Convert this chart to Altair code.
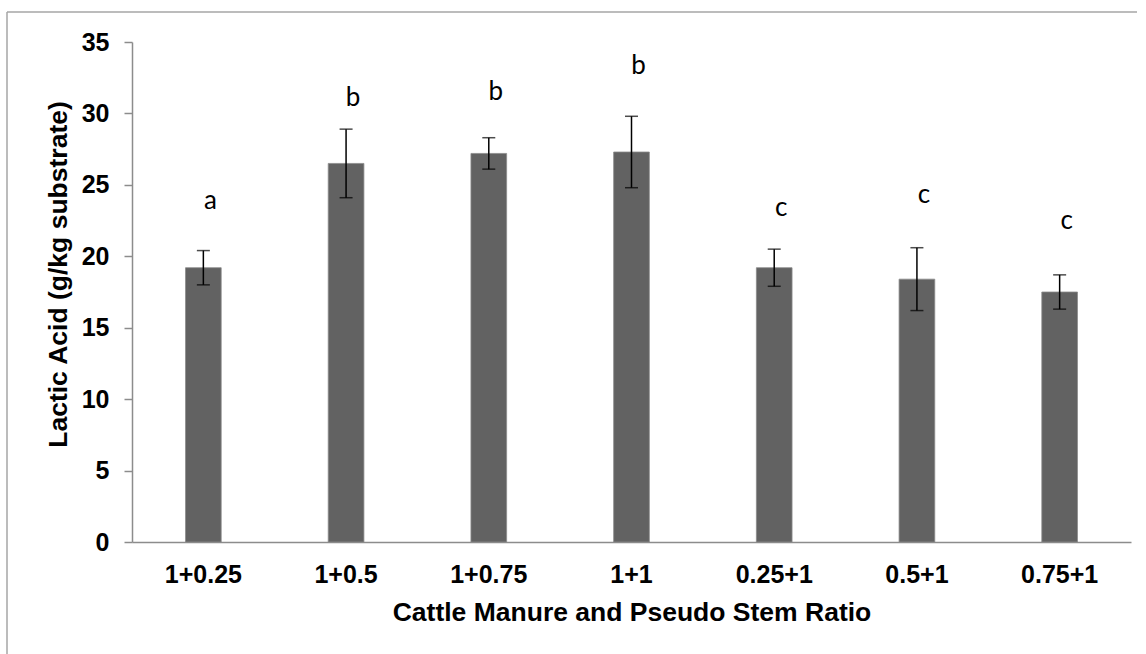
import altair as alt
import pandas as pd

categories = ["1+0.25", "1+0.5", "1+0.75", "1+1", "0.25+1", "0.5+1", "0.75+1"]
means = [19.2, 26.5, 27.2, 27.3, 19.2, 18.4, 17.5]
errors = [1.2, 2.4, 1.1, 2.5, 1.3, 2.2, 1.2]
letters = ["a", "b", "b", "b", "c", "c", "c"]
letter_y = [23.9, 31.1, 31.5, 33.3, 23.4, 24.3, 22.5]

df = pd.DataFrame({
    "cat": categories,
    "mean": means,
    "err": errors,
    "letter": letters,
    "ly": letter_y,
})
df["lo"] = df["mean"] - df["err"]
df["hi"] = df["mean"] + df["err"]

xenc = alt.X(
    "cat:N",
    sort=categories,
    scale=alt.Scale(paddingInner=0.75, paddingOuter=0.375),
    axis=alt.Axis(
        title="Cattle Manure and Pseudo Stem Ratio",
        labelAngle=0,
        labelFont="Liberation Sans",
        labelFontSize=25,
        labelFontWeight="bold",
        labelColor="#000000",
        labelPadding=20,
        ticks=False,
        domainColor="#8c8c8c",
        domainWidth=1.5,
        titleFont="Liberation Sans",
        titleFontSize=26.5,
        titleFontWeight="bold",
        titleColor="#000000",
        titlePadding=12,
    ),
)

yscale = alt.Scale(domain=[0, 35], nice=False)

bars = alt.Chart(df).mark_bar(color="#626262", stroke="#8a8a8a", strokeWidth=0.8).encode(
    x=xenc,
    y=alt.Y(
        "mean:Q",
        scale=yscale,
        axis=alt.Axis(
            title="Lactic Acid (g/kg substrate)",
            values=[0, 5, 10, 15, 20, 25, 30, 35],
            grid=False,
            labelFont="Liberation Sans",
            labelFontSize=25,
            labelFontWeight="bold",
            labelColor="#000000",
            labelPadding=15,
            tickSize=8,
            tickColor="#8c8c8c",
            tickWidth=1.5,
            domainColor="#8c8c8c",
            domainWidth=1.5,
            titleFont="Liberation Sans",
            titleFontSize=26.5,
            titleFontWeight="bold",
            titleColor="#000000",
            titleX=-60,
            titleY=232,
        ),
    ),
)

rules = alt.Chart(df).mark_rule(color="#000000", strokeWidth=1.5).encode(
    x=alt.X("cat:N", sort=categories),
    y=alt.Y("lo:Q", scale=yscale),
    y2="hi:Q",
)

caps_hi = alt.Chart(df).mark_tick(color="#000000", size=13, thickness=1.5, orient="horizontal").encode(
    x=alt.X("cat:N", sort=categories),
    y=alt.Y("hi:Q", scale=yscale),
)
caps_lo = alt.Chart(df).mark_tick(color="#000000", size=13, thickness=1.5, orient="horizontal").encode(
    x=alt.X("cat:N", sort=categories),
    y=alt.Y("lo:Q", scale=yscale),
)

labels = alt.Chart(df).mark_text(
    font="Lato", fontSize=26, color="#000000", baseline="middle", align="center", dx=7
).encode(
    x=alt.X("cat:N", sort=categories),
    y=alt.Y("ly:Q", scale=yscale),
    text="letter:N",
)

frame_top = alt.Chart(df.head(1)).mark_rule(color="#a6a6a6", strokeWidth=1.5, clip=False).encode(
    x=alt.value(-125), x2=alt.value(1005), y=alt.value(-30),
)
frame_left = alt.Chart(df.head(1)).mark_rule(color="#a6a6a6", strokeWidth=1.5, clip=False).encode(
    x=alt.value(-125), y=alt.value(-30), y2=alt.value(620),
)

chart = alt.layer(frame_top, frame_left, bars, rules, caps_hi, caps_lo, labels).properties(
    width=999,
    height=500,
    autosize=alt.AutoSizeParams(type="none"),
    padding={"left": 132, "top": 42, "right": 15, "bottom": 112},
    background="#ffffff",
).configure_view(stroke=None)

chart.save("out.html", embed_options={"renderer": "svg", "actions": False})
